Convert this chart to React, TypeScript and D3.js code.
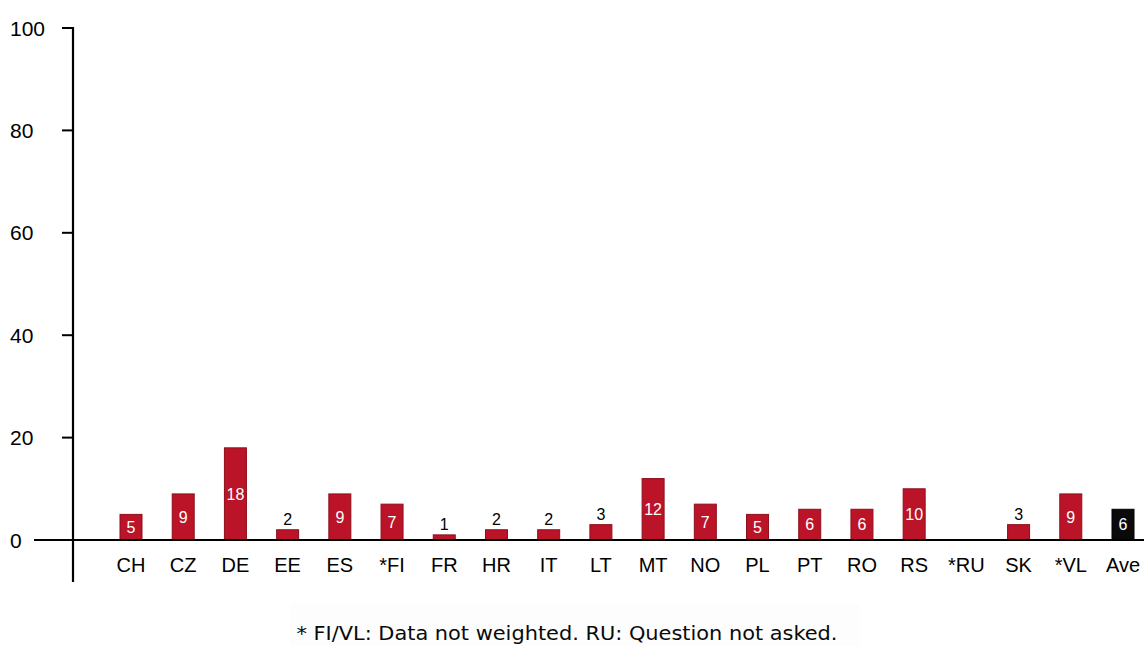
import React from "react";
import * as d3 from "d3";

// Share of respondents per country (%); null = question not asked
const countries = ["CH", "CZ", "DE", "EE", "ES", "*FI", "FR", "HR", "IT", "LT", "MT", "NO", "PL", "PT", "RO", "RS", "*RU", "SK", "*VL", "Ave"];
const values: (number | null)[] = [5, 9, 18, 2, 9, 7, 1, 2, 2, 3, 12, 7, 5, 6, 6, 10, null, 3, 9, 6];
const yTicks = [0, 20, 40, 60, 80, 100];
const footnote = "* FI/VL: Data not weighted. RU: Question not asked.";

const W = 1146;
const H = 646;

export default function App() {
  const y = d3.scaleLinear().domain([0, 100]).range([540, 28]);
  const x = d3.scalePoint<string>().domain(countries).range([131, 1123]);
  const barW = 22;
  const axisX = 73;
  const font = "'Liberation Sans', Arial, sans-serif";

  return (
    <svg width={W} height={H} style={{ position: "absolute", left: 0, top: 0, background: "#fff" }}>
      {/* y axis */}
      <line x1={axisX} x2={axisX} y1={y(100) - 1} y2={582} stroke="#000" strokeWidth={2.2} />
      {yTicks.map((t) => (
        <g key={t}>
          {t > 0 && <line x1={62} x2={axisX} y1={y(t)} y2={y(t)} stroke="#000" strokeWidth={2} />}
          <text x={10} y={y(t)} dy="0.36em" textAnchor="start" fontFamily={font} fontSize={21} fill="#000">
            {t}
          </text>
        </g>
      ))}

      {/* bars */}
      {countries.map((c, i) => {
        const v = values[i];
        const cx = x(c) as number;
        const isAvg = c === "Ave";
        return (
          <g key={c}>
            {v !== null && (
              <>
                <rect
                  x={cx - barW / 2}
                  y={y(v)}
                  width={barW}
                  height={y(0) - y(v)}
                  fill={isAvg ? "#0a0a0a" : "#bb1327"}
                  stroke={isAvg ? "#000" : "#8e0f1c"}
                  strokeWidth={1}
                />
                {v >= 5 ? (
                  <text
                    x={cx}
                    y={(y(v) + y(0)) / 2}
                    dy="0.36em"
                    textAnchor="middle"
                    fontFamily={font}
                    fontSize={16}
                    fill="#fff"
                  >
                    {v}
                  </text>
                ) : (
                  <text x={cx} y={y(v) - 5} textAnchor="middle" fontFamily={font} fontSize={16} fill="#000">
                    {v}
                  </text>
                )}
              </>
            )}
            <text x={cx} y={565} dy="0.36em" textAnchor="middle" fontFamily={font} fontSize={20} fill="#000">
              {c}
            </text>
          </g>
        );
      })}

      {/* baseline */}
      <line x1={34} x2={1144} y1={y(0)} y2={y(0)} stroke="#000" strokeWidth={2.2} />

      {/* footnote */}
      <rect x={290} y={604} width={570} height={42} fill="#fdfdfd" />
      <text
        x={567}
        y={633}
        dy="0.36em"
        textAnchor="middle"
        fontFamily="'DejaVu Sans Condensed', Tahoma, 'DejaVu Sans', sans-serif"
        fontSize={20}
        textLength={541}
        lengthAdjust="spacingAndGlyphs"
        fill="#0a0a0a"
      >
        {footnote}
      </text>
    </svg>
  );
}
